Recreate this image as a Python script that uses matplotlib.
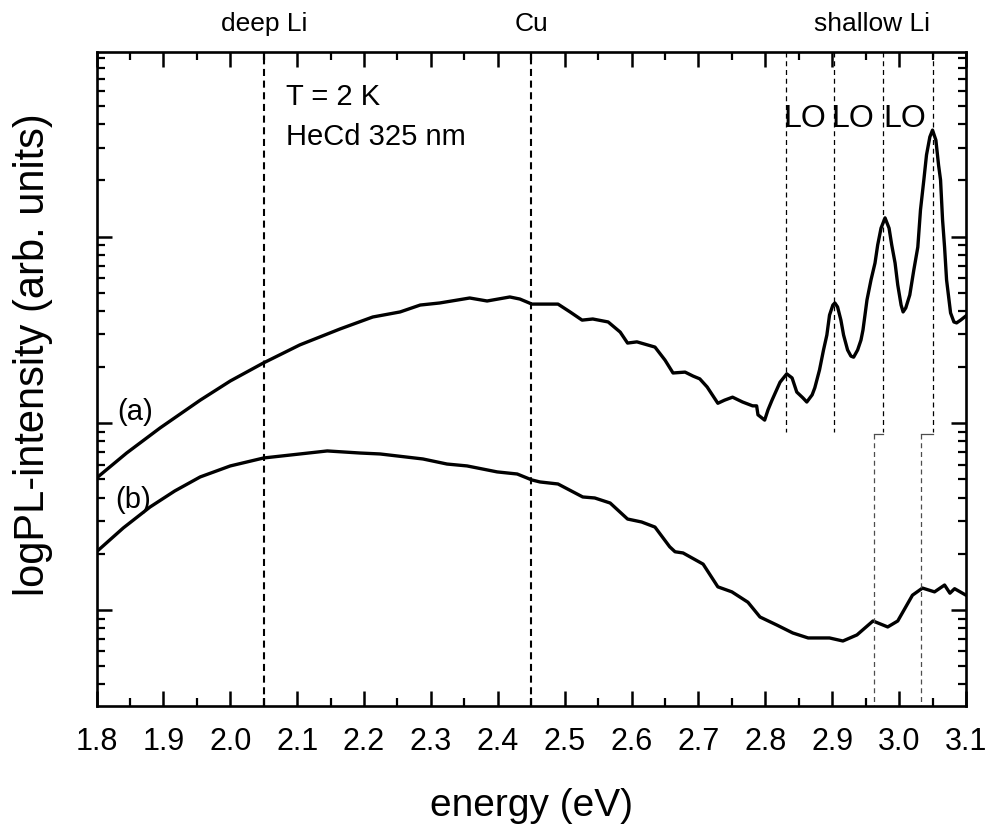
import numpy as np
import matplotlib
matplotlib.use("Agg")
from matplotlib import pyplot as plt
from matplotlib.ticker import MultipleLocator, LogLocator, NullFormatter

# spectrum (a)
energyA = [1.800, 1.845, 1.895, 1.955, 2.000, 2.049, 2.104, 2.164, 2.213, 2.254,
           2.284, 2.313, 2.358, 2.384, 2.418, 2.433, 2.451, 2.490, 2.508, 2.526,
           2.542, 2.565, 2.583, 2.594, 2.608, 2.635, 2.650, 2.662, 2.680, 2.692,
           2.702, 2.713, 2.729, 2.739, 2.751, 2.766, 2.781, 2.787, 2.789, 2.799,
           2.804, 2.810, 2.822, 2.832, 2.840, 2.847, 2.856, 2.862, 2.870, 2.874,
           2.881, 2.887, 2.892, 2.896, 2.901, 2.904, 2.908, 2.913, 2.917, 2.923,
           2.928, 2.932, 2.938, 2.943, 2.946, 2.949, 2.952, 2.958, 2.964, 2.968,
           2.973, 2.979, 2.985, 2.989, 2.994, 2.998, 3.003, 3.006, 3.010, 3.016,
           3.022, 3.028, 3.032, 3.037, 3.041, 3.046, 3.050, 3.055, 3.059, 3.062,
           3.065, 3.068, 3.071, 3.077, 3.082, 3.086, 3.092, 3.100]
intensityA = [5.09, 6.93, 9.44, 13.3, 16.85, 21.0, 26.3, 32.0, 37.1, 39.5,
              43.0, 44.1, 46.9, 45.2, 47.5, 46.3, 43.5, 43.5, 39.5, 35.7,
              36.2, 34.9, 30.8, 26.9, 27.3, 25.6, 21.8, 18.6, 18.8, 17.9,
              17.3, 15.65, 12.8, 13.3, 13.8, 13.0, 12.4, 12.4, 11.1, 10.4,
              11.8, 13.3, 16.6, 18.4, 17.5, 14.7, 13.7, 13.0, 14.2, 15.5,
              19.3, 24.7, 29.7, 38.0, 43.0, 44.1, 42.0, 35.7, 29.7, 24.7,
              22.9, 22.6, 24.7, 27.9, 31.6, 38.0, 45.8, 58.6, 72.2, 90.2,
              111, 126, 111, 90.2, 72.2, 55.1, 43.0, 39.5, 41.5, 48.7,
              66.2, 87.9, 139, 201, 274, 342, 372, 329, 242, 201,
              123, 87.9, 58.6, 39.0, 34.9, 34.5, 35.7, 37.6]

# spectrum (b)
energyB = [1.800, 1.840, 1.880, 1.917, 1.955, 2.000, 2.050, 2.145, 2.194, 2.224,
           2.288, 2.324, 2.354, 2.399, 2.429, 2.451, 2.463, 2.490, 2.527, 2.545,
           2.568, 2.594, 2.615, 2.635, 2.657, 2.665, 2.677, 2.707, 2.729, 2.750,
           2.774, 2.792, 2.817, 2.841, 2.864, 2.896, 2.916, 2.937, 2.961, 2.983,
           2.998, 3.020, 3.035, 3.053, 3.068, 3.076, 3.083, 3.100]
intensityB = [2.05, 2.75, 3.56, 4.34, 5.16, 5.91, 6.52, 7.11, 6.93, 6.85,
              6.44, 6.05, 5.91, 5.49, 5.35, 4.97, 4.85, 4.73, 4.03, 3.98,
              3.74, 3.07, 2.96, 2.78, 2.18, 2.05, 2.02, 1.76, 1.33, 1.25,
              1.10, 0.917, 0.831, 0.753, 0.708, 0.708, 0.682, 0.735, 0.873, 0.811,
              0.873, 1.20, 1.31, 1.25, 1.36, 1.23, 1.30, 1.20]

impurityLines = [2.05, 2.45]
topLabels = ["deep Li", "Cu", "shallow Li"]
topLabelPositions = [2.05, 2.45, 2.96]
loLinesUpper = [2.831, 2.903]
loStepsUpper = [2.976, 3.050]
loStepsLower = [2.962, 3.033]
loBreak = 9.0
loLabelPositions = [2.859, 2.931, 3.008]
xTicks = np.round(np.arange(1.8, 3.101, 0.1), 1)
xTickLabels = ["%.1f" % t for t in xTicks]
xLimits = (1.8, 3.1)
yLimits = (0.304, 975)

regular = ["Liberation Sans", "DejaVu Sans"]
plt.rcParams["font.family"] = regular

fig = plt.figure(figsize=(9.88, 8.24), dpi=100)
ax = fig.add_axes([0.0977, 0.1426, 0.88, 0.7943])

ax.plot(energyA, intensityA, color="black", lw=2.4, solid_joinstyle="round")
ax.plot(energyB, intensityB, color="black", lw=2.4, solid_joinstyle="round")

for x in impurityLines:
    ax.plot([x, x], yLimits, color="black", lw=1.5, linestyle=(0, (3.4, 2.2)))
for x in loLinesUpper:
    ax.plot([x, x], [yLimits[1], loBreak], color="black", lw=0.9,
            linestyle=(0, (4, 3)))
for xUp, xLow in zip(loStepsUpper, loStepsLower):
    ax.plot([xUp, xUp], [yLimits[1], loBreak], color="black", lw=0.9,
            linestyle=(0, (4, 3)))
    ax.plot([xUp, xLow], [loBreak * 0.97, loBreak * 0.97], color="0.3", lw=0.9)
    ax.plot([xLow, xLow], [loBreak * 0.97, yLimits[0]], color="0.3", lw=0.9,
            linestyle=(0, (4, 3)))

ax.set_yscale("log")
ax.set_xlim(*xLimits)
ax.set_ylim(*yLimits)

ax.set_xticks(xTicks)
ax.set_xticklabels(xTickLabels, fontsize=22)
ax.xaxis.set_minor_locator(MultipleLocator(0.05))
ax.yaxis.set_major_locator(LogLocator(base=10, numticks=10))
ax.yaxis.set_minor_locator(LogLocator(base=10, subs=np.arange(2, 10), numticks=20))
ax.yaxis.set_major_formatter(NullFormatter())
ax.yaxis.set_minor_formatter(NullFormatter())

ax.tick_params(which="both", direction="in", top=True, right=True)
ax.tick_params(which="major", length=11, width=1.8, pad=15)
ax.tick_params(which="minor", length=6, width=1.6)
for spine in ax.spines.values():
    spine.set_linewidth(1.9)

ax.set_xlabel("energy (eV)", fontsize=28)
ax.xaxis.set_label_coords(0.5, -0.124)
ax.set_ylabel("logPL-intensity (arb. units)", fontsize=30)
ax.yaxis.set_label_coords(-0.05, 0.537)

trans = ax.get_xaxis_transform()
for label, x in zip(topLabels, topLabelPositions):
    ax.text(x, 1.032, label, transform=trans, ha="center", va="baseline",
            fontsize=19)
for x in loLabelPositions:
    ax.text(x, 0.886, "LO", transform=trans, ha="center", va="baseline",
            fontsize=23)

ax.text(0.218, 0.919, "T = 2 K", transform=ax.transAxes, fontsize=21,
        va="baseline")
ax.text(0.218, 0.858, "HeCd 325 nm", transform=ax.transAxes, fontsize=21,
        va="baseline")
ax.text(1.858, 11.5, "(a)", ha="center", va="center", fontsize=21)
ax.text(1.855, 3.88, "(b)", ha="center", va="center", fontsize=21)

plt.savefig("out.png", dpi=100)
